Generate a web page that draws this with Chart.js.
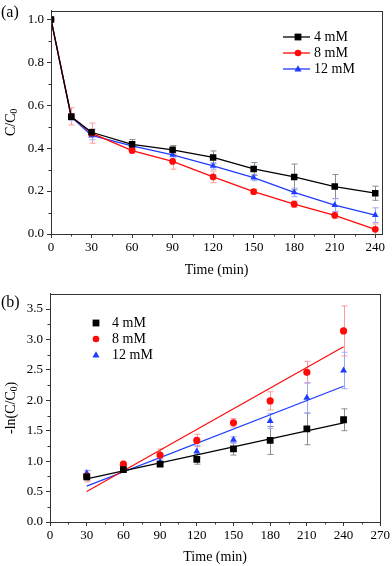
<!DOCTYPE html>
<html>
<head>
<meta charset="utf-8">
<script src="https://cdn.jsdelivr.net/npm/chart.js@4.4.1/dist/chart.umd.min.js"></script>
<style>
    body { margin: 0; background: #fff; }
    canvas { display: block; }
</style>
</head>
<body>
<canvas id="chart1" width="392" height="283"></canvas>
<canvas id="chart2" width="392" height="283"></canvas>
<script>
// (a) C/C0 vs time
const timeA = [0, 15, 30, 60, 90, 120, 150, 180, 210, 240];
const a4mM = [1.0, 0.546, 0.474, 0.418, 0.392, 0.357, 0.303, 0.266, 0.221, 0.19];
const a8mM = [1.0, 0.548, 0.47, 0.389, 0.338, 0.266, 0.197, 0.139, 0.087, 0.022];
const a12mM = [1.0, 0.546, 0.459, 0.411, 0.369, 0.317, 0.263, 0.194, 0.135, 0.088];
const a4mMErr = [0, 0.015, 0.015, 0.022, 0.02, 0.03, 0.03, 0.06, 0.056, 0.033];
const a8mMErr = [0, 0.04, 0.047, 0.012, 0.036, 0.027, 0.01, 0.015, 0.015, 0.025];
const a12mMErr = [0, 0.015, 0.02, 0.015, 0.015, 0.015, 0.015, 0.02, 0.03, 0.034];
const xTicksA = [0, 30, 60, 90, 120, 150, 180, 210, 240];
const yTicksA = [0.0, 0.2, 0.4, 0.6, 0.8, 1.0];

// (b) -ln(C/C0) vs time, with linear fits
const timeB = [30, 60, 90, 120, 150, 180, 210, 240];
const b4mM = [0.74, 0.86, 0.95, 1.03, 1.20, 1.34, 1.53, 1.68];
const b8mM = [0.75, 0.95, 1.10, 1.34, 1.63, 1.99, 2.46, 3.14];
const b12mM = [0.80, 0.90, 0.99, 1.16, 1.35, 1.66, 2.04, 2.49];
const b4mMErr = [0.05, 0.03, 0.04, 0.08, 0.1, 0.23, 0.26, 0.18];
const b8mMErr = [0.09, 0.03, 0.1, 0.1, 0.07, 0.15, 0.18, 0.41];
const b12mMErr = [0.05, 0.03, 0.05, 0.1, 0.05, 0.12, 0.25, 0.3];
const fitX = [30, 240];
const fit4mM = [0.71, 1.63];
const fit8mM = [0.50, 2.88];
const fit12mM = [0.59, 2.23];
const xTicksB = [0, 30, 60, 90, 120, 150, 180, 210, 240, 270];
const yTicksB = [0.0, 0.5, 1.0, 1.5, 2.0, 2.5, 3.0, 3.5];

const labels = ['4 mM', '8 mM', '12 mM'];

const BLACK = '#000000';
const RED = '#ff0a0a';
const BLUE = '#1f3cff';
const SERIF = '"Liberation Serif", "DejaVu Serif", serif';
const AXIS = '#333333';

function pts(xs, ys) {
    return xs.map((x, i) => ({ x: x, y: ys[i] }));
}

function drawMarker(ctx, style, x, y, r, color) {
    ctx.save();
    ctx.fillStyle = color;
    ctx.beginPath();
    if (style === 'rect') {
        ctx.rect(x - r, y - r, 2 * r, 2 * r);
    } else if (style === 'circle') {
        ctx.arc(x, y, r, 0, Math.PI * 2);
    } else {
        ctx.moveTo(x, y - r * 1.1);
        ctx.lineTo(x + r * 1.05, y + r * 0.7);
        ctx.lineTo(x - r * 1.05, y + r * 0.7);
        ctx.closePath();
    }
    ctx.fill();
    ctx.restore();
}

// text with a subscript part: parts = [[text, isSub], ...]
function drawRich(ctx, parts, x, y, size) {
    let w = 0;
    parts.forEach(p => {
        ctx.font = (p[1] ? size * 0.68 : size) + 'px ' + SERIF;
        w += ctx.measureText(p[0]).width;
    });
    let cx = x - w / 2;
    parts.forEach(p => {
        ctx.font = (p[1] ? size * 0.68 : size) + 'px ' + SERIF;
        ctx.fillText(p[0], cx, p[1] ? y + size * 0.22 : y);
        cx += ctx.measureText(p[0]).width;
    });
}

const decorPlugin = {
    id: 'decor',
    beforeDatasetsDraw(chart, args, opts) {
        const ctx = chart.ctx;
        const xs = chart.scales.x;
        const ys = chart.scales.y;
        chart.data.datasets.forEach(ds => {
            if (!ds.errors) return;
            ctx.save();
            ctx.strokeStyle = ds.errorColor;
            ctx.lineWidth = 1;
            ds.data.forEach((p, i) => {
                const e = ds.errors[i];
                if (!e) return;
                const px = Math.round(xs.getPixelForValue(p.x)) + 0.5;
                const top = ys.getPixelForValue(p.y + e);
                const bot = ys.getPixelForValue(p.y - e);
                ctx.beginPath();
                ctx.moveTo(px, top);
                ctx.lineTo(px, bot);
                ctx.moveTo(px - 3, top);
                ctx.lineTo(px + 3, top);
                ctx.moveTo(px - 3, bot);
                ctx.lineTo(px + 3, bot);
                ctx.stroke();
            });
            ctx.restore();
        });
    },
    afterDraw(chart, args, opts) {
        const ctx = chart.ctx;
        const a = chart.chartArea;
        const xs = chart.scales.x;
        const ys = chart.scales.y;
        ctx.save();

        // frame
        ctx.strokeStyle = AXIS;
        ctx.lineWidth = 1;
        ctx.strokeRect(Math.round(a.left) + 0.5, Math.round(a.top) + 0.5,
            Math.round(a.right - a.left), Math.round(a.bottom - a.top));

        // minor ticks
        ctx.beginPath();
        for (let i = 0; i < opts.xTicks.length; i++) {
            const m = opts.xTicks[i] + (opts.xTicks[1] - opts.xTicks[0]) / 2;
            if (m >= xs.max) break;
            const px = Math.round(xs.getPixelForValue(m)) + 0.5;
            ctx.moveTo(px, a.bottom);
            ctx.lineTo(px, a.bottom + 2.5);
        }
        for (let i = 0; i < opts.yTicks.length; i++) {
            const m = opts.yTicks[i] + (opts.yTicks[1] - opts.yTicks[0]) / 2;
            if (m >= ys.max) break;
            const py = Math.round(ys.getPixelForValue(m)) + 0.5;
            ctx.moveTo(a.left, py);
            ctx.lineTo(a.left - 2.5, py);
        }
        ctx.stroke();

        ctx.fillStyle = '#000';
        ctx.textBaseline = 'middle';

        // panel label
        ctx.font = '16px ' + SERIF;
        ctx.textAlign = 'left';
        ctx.fillText(opts.panel, 1, opts.panelY);

        // x title
        ctx.font = '14px ' + SERIF;
        ctx.textAlign = 'center';
        ctx.fillText('Time (min)', (a.left + a.right) / 2, opts.xTitleY);

        // y title
        ctx.save();
        ctx.translate(opts.yTitleX, (a.top + a.bottom) / 2);
        ctx.rotate(-Math.PI / 2);
        ctx.textAlign = 'left';
        drawRich(ctx, opts.yTitle, 0, 0, 14);
        ctx.restore();

        // legend
        ctx.textAlign = 'left';
        chart.data.datasets.forEach((ds, i) => {
            if (!ds.legendRow && ds.legendRow !== 0) return;
            const ly = opts.legendY + ds.legendRow * opts.legendGap;
            const lx = opts.legendX;
            if (opts.legendLine) {
                ctx.strokeStyle = ds.borderColor;
                ctx.lineWidth = 1.3;
                ctx.beginPath();
                ctx.moveTo(lx - 15, ly);
                ctx.lineTo(lx + 12, ly);
                ctx.stroke();
            }
            drawMarker(ctx, ds.pointStyle, lx, ly, ds.pointStyle === 'circle' ? 3.3 : 3.4, ds.borderColor);
            ctx.fillStyle = '#000';
            ctx.font = '14px ' + SERIF;
            ctx.fillText(ds.label, lx + opts.legendText, ly);
        });
        ctx.restore();
    }
};

function axisX(min, max, ticks, height) {
    return {
        type: 'linear',
        min: min,
        max: max,
        afterBuildTicks: s => { s.ticks = ticks.map(v => ({ value: v })); },
        afterFit: s => { s.height = height; },
        ticks: { color: '#000', font: { family: SERIF, size: 13 }, padding: 2, maxRotation: 0, autoSkip: false },
        grid: { drawOnChartArea: false, tickLength: 4, color: AXIS, tickColor: AXIS },
        border: { color: AXIS }
    };
}

function axisY(min, max, ticks, width) {
    return {
        type: 'linear',
        min: min,
        max: max,
        afterBuildTicks: s => { s.ticks = ticks.map(v => ({ value: v })); },
        afterFit: s => { s.width = width; },
        ticks: { color: '#000', font: { family: SERIF, size: 13 }, padding: 3, callback: v => v.toFixed(1) },
        grid: { drawOnChartArea: false, tickLength: 4, color: AXIS, tickColor: AXIS },
        border: { color: AXIS }
    };
}

// BEGIN FOR CHART 1

const dataA = {
    datasets: [
        {
            label: labels[0], data: pts(timeA, a4mM), errors: a4mMErr, errorColor: '#8c8c8c',
            borderColor: BLACK, backgroundColor: BLACK, pointStyle: 'rect', pointRadius: 4.6,
            borderWidth: 1.3, pointBorderWidth: 0, legendRow: 0
        },
        {
            label: labels[1], data: pts(timeA, a8mM), errors: a8mMErr, errorColor: '#ff9a9a',
            borderColor: RED, backgroundColor: RED, pointStyle: 'circle', pointRadius: 3.4,
            borderWidth: 1.3, pointBorderWidth: 0, legendRow: 1
        },
        {
            label: labels[2], data: pts(timeA, a12mM), errors: a12mMErr, errorColor: '#9aa8ff',
            borderColor: BLUE, backgroundColor: BLUE, pointStyle: 'triangle', pointRadius: 3.8,
            borderWidth: 1.3, pointBorderWidth: 0, legendRow: 2
        }
    ]
};

const configA = {
    type: 'line',
    data: dataA,
    options: {
        responsive: false,
        animation: false,
        layout: { padding: { top: 3, right: 10, left: 0, bottom: 0 } },
        scales: {
            x: axisX(0, 245, xTicksA, 49),
            y: axisY(0, 1.04, yTicksA, 51)
        },
        plugins: {
            legend: { display: false },
            tooltip: { enabled: false },
            decor: {
                panel: '(a)', panelY: 13, xTitleY: 270, yTitleX: 11,
                yTitle: [['C/C', false], ['0', true]],
                xTicks: xTicksA, yTicks: yTicksA,
                legendX: 298, legendY: 37, legendGap: 16, legendLine: true, legendText: 16
            }
        }
    },
    plugins: [decorPlugin]
};

const chart1 = new Chart(document.getElementById('chart1'), configA);

// END FOR CHART 1

// BEGIN FOR CHART 2

const dataB = {
    datasets: [
        {
            label: labels[0], data: pts(timeB, b4mM), errors: b4mMErr, errorColor: '#8c8c8c',
            borderColor: BLACK, backgroundColor: BLACK, pointStyle: 'rect', pointRadius: 4.8,
            showLine: false, pointBorderWidth: 0, legendRow: 0
        },
        {
            label: labels[1], data: pts(timeB, b8mM), errors: b8mMErr, errorColor: '#ff9a9a',
            borderColor: RED, backgroundColor: RED, pointStyle: 'circle', pointRadius: 3.6,
            showLine: false, pointBorderWidth: 0, legendRow: 1
        },
        {
            label: labels[2], data: pts(timeB, b12mM), errors: b12mMErr, errorColor: '#9aa8ff',
            borderColor: BLUE, backgroundColor: BLUE, pointStyle: 'triangle', pointRadius: 4,
            showLine: false, pointBorderWidth: 0, legendRow: 2
        },
        { label: 'fit 4', data: pts(fitX, fit4mM), borderColor: BLACK, borderWidth: 1.2, pointRadius: 0 },
        { label: 'fit 8', data: pts(fitX, fit8mM), borderColor: RED, borderWidth: 1.2, pointRadius: 0 },
        { label: 'fit 12', data: pts(fitX, fit12mM), borderColor: BLUE, borderWidth: 1.2, pointRadius: 0 }
    ]
};

const configB = {
    type: 'line',
    data: dataB,
    options: {
        responsive: false,
        animation: false,
        layout: { padding: { top: 5, right: 11, left: 0, bottom: 0 } },
        scales: {
            x: axisX(0, 270, xTicksB, 44),
            y: axisY(0, 3.75, yTicksB, 50)
        },
        plugins: {
            legend: { display: false },
            tooltip: { enabled: false },
            decor: {
                panel: '(b)', panelY: 20, xTitleY: 274, yTitleX: 11,
                yTitle: [['-ln(C/C', false], ['0', true], [')', false]],
                xTicks: xTicksB, yTicks: yTicksB,
                legendX: 96, legendY: 40, legendGap: 16, legendLine: false, legendText: 16
            }
        }
    },
    plugins: [decorPlugin]
};

const chart2 = new Chart(document.getElementById('chart2'), configB);

// END FOR CHART 2
</script>
</body>
</html>
